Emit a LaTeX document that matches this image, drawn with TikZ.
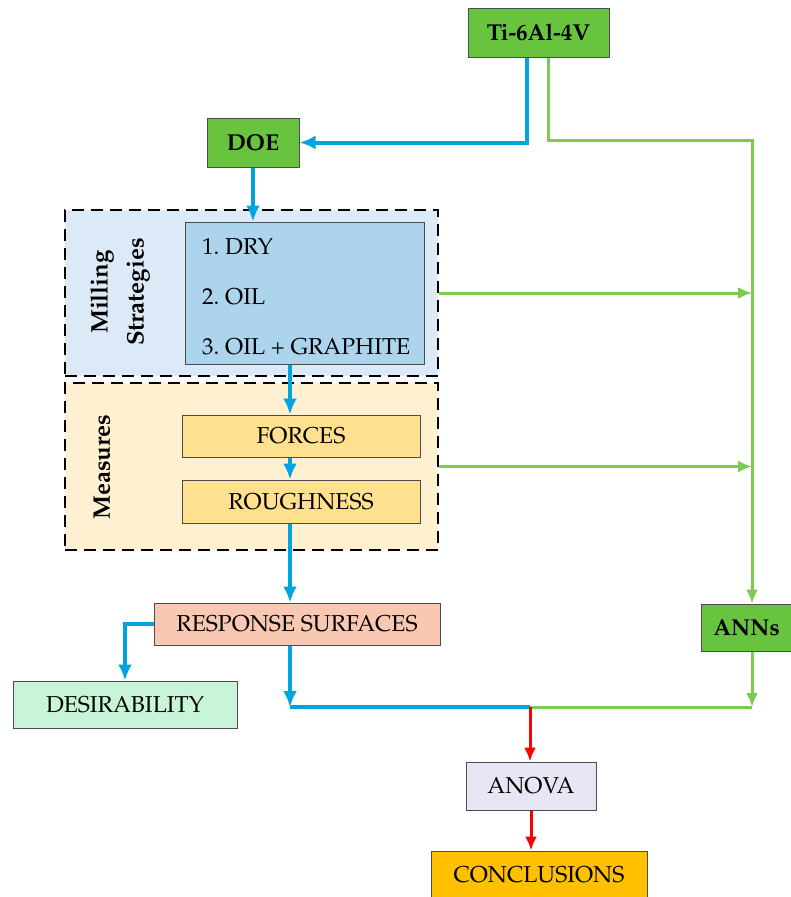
\documentclass[tikz,border=0pt]{standalone}
\usepackage[T1]{fontenc}
\usepackage{mathpazo}
\usepackage{tikz}
\usetikzlibrary{arrows.meta}

\definecolor{leaf}{RGB}{104,196,62}
\definecolor{sky}{RGB}{0,164,224}
\definecolor{grass}{RGB}{124,202,78}
\definecolor{millfill}{RGB}{220,233,246}
\definecolor{stratfill}{RGB}{172,212,236}
\definecolor{measfill}{RGB}{254,240,208}
\definecolor{measbox}{RGB}{255,224,142}
\definecolor{respfill}{RGB}{248,200,178}
\definecolor{desfill}{RGB}{200,245,216}
\definecolor{anovafill}{RGB}{230,230,245}
\definecolor{conclfill}{RGB}{255,192,0}

\tikzset{
  box/.style={draw=black!70, line width=1pt, inner sep=0pt,
    font=\fontsize{23}{28}\selectfont},
  leafbox/.style={box, fill=leaf, font=\fontsize{23}{28}\selectfont\bfseries},
  group/.style={draw=black, line width=2pt, dash pattern=on 12pt off 7pt, inner sep=0pt},
  blueflow/.style={-{Latex[length=16pt,width=14pt]}, sky, line width=4pt},
  greenflow/.style={-{Latex[length=14pt,width=12pt]}, grass, line width=3pt},
  redflow/.style={-{Latex[length=14pt,width=12pt]}, red, line width=3pt}
}

\begin{document}
\frenchspacing
\begin{tikzpicture}[x=1pt,y=-1pt]
\useasboundingbox (0,0) rectangle (791,897);

% dashed groups
\node[group, fill=millfill, minimum width=373, minimum height=166] (mill) at (251.5,293) {};
\node[group, fill=measfill, minimum width=373, minimum height=167] (meas) at (251.5,466.5) {};
\node[rotate=90, align=center, font=\fontsize{24}{36}\selectfont\bfseries] (millname) at (120,292) {Milling\\Strategies};
\node[rotate=90, font=\fontsize{24}{28}\selectfont\bfseries] (measname) at (102,467) {Measures};

% boxes
\node[leafbox, minimum width=141, minimum height=49] (alloy) at (538.5,32.5) {Ti-6Al-4V};
\node[leafbox, minimum width=92, minimum height=49] (doe) at (253,142.5) {DOE};
\node[box, fill=stratfill, minimum width=239, minimum height=142] (strat) at (304.5,293) {};
\node[anchor=west, align=left, inner sep=0pt, font=\fontsize{23}{50}\selectfont] (stratlist) at (202,297) {1. DRY\\2. OIL\\3. OIL + GRAPHITE};
\node[box, fill=measbox, minimum width=238, minimum height=42] (forces) at (301,436) {FORCES};
\node[box, fill=measbox, minimum width=238, minimum height=43] (rough) at (301,501.5) {ROUGHNESS};
\node[box, fill=respfill, minimum width=286, minimum height=42] (resp) at (297,624) {RESPONSE SURFACES};
\node[leafbox, minimum width=91, minimum height=47] (anns) at (746.5,627.5) {ANNs};
\node[box, fill=desfill, minimum width=224, minimum height=47] (desir) at (125,704.5) {DESIRABILITY};
\node[box, fill=anovafill, minimum width=130, minimum height=48] (anova) at (531,786) {ANOVA};
\node[box, fill=conclfill, minimum width=216, minimum height=48] (concl) at (539,875) {CONCLUSIONS};

\coordinate (spine) at (290,0);
\coordinate (rail) at (752,140);
\coordinate (join) at (530,707);

% connectors
\draw[blueflow] ([xshift=-12pt]alloy.south) |- (doe.east);
\draw[greenflow] ([xshift=10pt]alloy.south) |- (rail) -- (rail |- anns.north);
\draw[blueflow] (doe.south) -- (doe.south |- strat.north);
\draw[blueflow] (strat.south -| spine) -- (forces.north -| spine);
\draw[blueflow] (forces.south -| spine) -- (rough.north -| spine);
\draw[blueflow] (rough.south -| spine) -- (resp.north -| spine);
\draw[greenflow] (mill.east) -- (mill.east -| rail);
\draw[greenflow] (meas.east) -- (meas.east -| rail);
\draw[blueflow] (resp.west) -| (desir.north);
\draw[blueflow] (resp.south -| spine) -- (spine |- join);
\draw[sky, line width=4pt] (spine |- join) -- (join);
\draw[greenflow] (anns.south -| rail) -- (rail |- join);
\draw[grass, line width=3pt] (rail |- join) -- (join);
\draw[redflow] (join) -- (anova.north -| join);
\draw[redflow] (anova.south) -- (concl.north -| anova.south);
\end{tikzpicture}
\end{document}
